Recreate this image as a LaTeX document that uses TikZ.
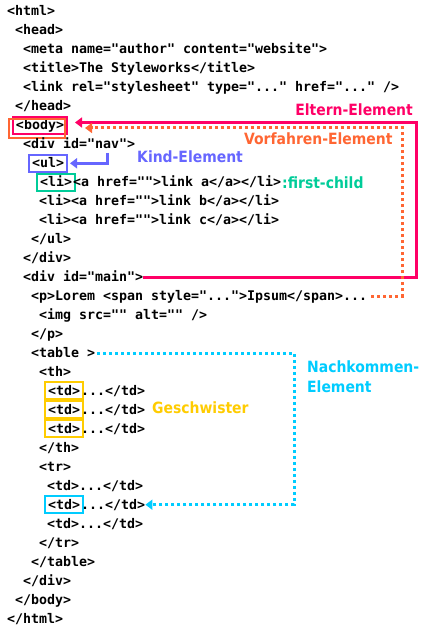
\documentclass[tikz,border=0pt]{standalone}
\usepackage{fontspec}
\setmainfont{DejaVu Sans}
\newfontfamily\codefont{DejaVu Sans Mono}
\newfontfamily\labelfont{DejaVu Sans Condensed}
\usepackage{tikz}
\usetikzlibrary{arrows.meta}
\definecolor{elterncol}{HTML}{FF0066}
\definecolor{vorfahrcol}{HTML}{FF6633}
\definecolor{kindcol}{HTML}{6666FF}
\definecolor{firstcol}{HTML}{00CC99}
\definecolor{geschcol}{HTML}{FFCC00}
\definecolor{nachkcol}{HTML}{00CCFF}

\begin{document}
\begin{tikzpicture}[x=1pt,y=-1pt,
    code/.style={font=\codefont\bfseries\fontsize{13.29}{15}\selectfont, anchor=base west,
      inner sep=0pt, text height=10pt, text depth=1pt},
    tagbox/.style={code, draw=#1, line width=2pt, inner xsep=3pt, inner ysep=3pt},
    lbl/.style={font=\labelfont\bfseries\fontsize{15.5}{20}\selectfont, text=#1, inner sep=0pt, anchor=base west},
    solidcon/.style={draw=#1, line width=3pt, -{Triangle[length=7pt,width=10pt]}},
    dotcon/.style={solidcon=#1, dash pattern=on 3pt off 3pt}]
      \fill[white] (0,0) rectangle (427,631);
      \useasboundingbox (0,0) rectangle (427,631);
      % the html source
      \node[code] (html) at (7,16) {<html>};
      \node[code] (head) at (15,35) {<head>};
      \node[code] (meta) at (23,53.9) {<meta name="author" content="website">};
      \node[code] (title) at (23,72.9) {<title>The Styleworks</title>};
      \node[code] (link) at (23,91.9) {<link rel="stylesheet" type="..." href="..." />};
      \node[code] (headend) at (15,110.9) {</head>};
      \node[tagbox=elterncol] (body) at (12,129.8) {<body>};
      \draw[vorfahrcol, line width=2pt] ([shift={(-3,3)}]body.north west) rectangle ([shift={(-3,3)}]body.south east);
      \node[code] (divnav) at (23,148.8) {<div id="nav">};
      \node[tagbox=kindcol] (ul) at (28,167.8) {<ul>};
      \node[tagbox=firstcol] (li) at (36,186.7) {<li>};
      \node[code] (lirest) at ([xshift=-3pt]li.base east) {<a href="">link a</a></li>};
      \node[code] (lib) at (39,205.7) {<li><a href="">link b</a></li>};
      \node[code] (lic) at (39,224.7) {<li><a href="">link c</a></li>};
      \node[code] (ulend) at (31,243.6) {</ul>};
      \node[code] (divnavend) at (23,262.6) {</div>};
      \node[code] (divmain) at (23,281.6) {<div id="main">};
      \node[code] (p) at (31,300.6) {<p>Lorem <span style="...">Ipsum</span>...};
      \node[code] (img) at (39,319.5) {<img src="" alt="" />};
      \node[code] (pend) at (31,338.5) {</p>};
      \node[code] (table) at (31,357.5) {<table >};
      \node[code] (th) at (39,376.4) {<th>};
      \node[tagbox=geschcol] (tdA) at (44,395.4) {<td>};
      \node[code] (tdArest) at ([xshift=-3pt]tdA.base east) {...</td>};
      \node[tagbox=geschcol] (tdB) at (44,414.4) {<td>};
      \node[code] (tdBrest) at ([xshift=-3pt]tdB.base east) {...</td>};
      \node[tagbox=geschcol] (tdC) at (44,433.3) {<td>};
      \node[code] (tdCrest) at ([xshift=-3pt]tdC.base east) {...</td>};
      \node[code] (thend) at (39,452.3) {</th>};
      \node[code] (tr) at (39,471.3) {<tr>};
      \node[code] (tdD) at (47,490.3) {<td>...</td>};
      \node[tagbox=nachkcol] (tdE) at (44,509.2) {<td>};
      \node[code] (tdErest) at ([xshift=-3pt]tdE.base east) {...</td>};
      \node[code] (tdF) at (47,528.2) {<td>...</td>};
      \node[code] (trend) at (39,547.2) {</tr>};
      \node[code] (tableend) at (31,566.1) {</table>};
      \node[code] (divmainend) at (23,585.1) {</div>};
      \node[code] (bodyend) at (15,604.1) {</body>};
      \node[code] (htmlend) at (7,623) {</html>};
      % labels
      \node[lbl=elterncol, anchor=base east] (eltern) at (413,116) {Eltern-Element};
      \node[lbl=vorfahrcol] (vorfahr) at (244,145) {Vorfahren-Element};
      \node[lbl=kindcol] (kind) at (137,163) {Kind-Element};
      \node[lbl=firstcol] (first) at (282,188) {:first-child};
      \node[lbl=geschcol] (gesch) at (152,413) {Geschwister};
      \node[lbl=nachkcol] (nachkA) at (307,372) {Nachkommen-};
      \node[lbl=nachkcol] (nachkB) at (307,392) {Element};
      % connectors
      \coordinate (eltR) at (416.5,122.5);
      \coordinate (vorR) at (402.5,128);
      \coordinate (kindT) at (107,153);
      \coordinate (nachR) at (294,0);
      \draw[solidcon=elterncol, shorten >=7pt] (divmain.east) -| (eltR) -- (eltR -| body.east);
      \draw[dotcon=vorfahrcol, shorten >=17pt] ([xshift=4pt]p.east) -| (vorR) -- (vorR -| body.east);
      \draw[solidcon=kindcol, shorten >=2pt] (kindT) |- (ul.east);
      \draw[dotcon=nachkcol] ([xshift=2pt]table.east) -| (nachR |- tdErest.east) -- (tdErest.east);
    \end{tikzpicture}
\end{document}
